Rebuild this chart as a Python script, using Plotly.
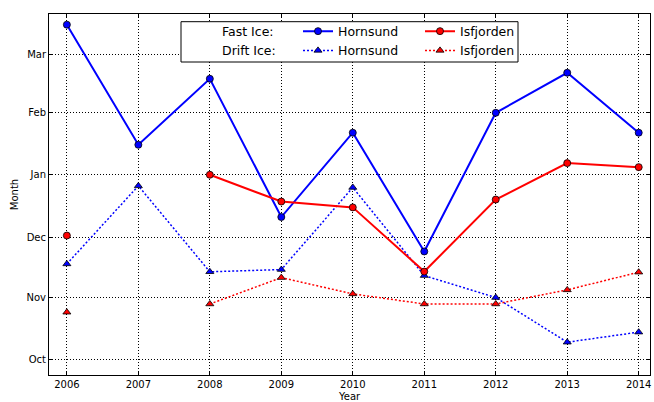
import plotly.graph_objects as go

# Years
years = [2006, 2007, 2008, 2009, 2010, 2011, 2012, 2013, 2014]

# Values are days since 1 October (Oct=0, Nov=31, Dec=61, Jan=92, Feb=123, Mar=152)
fast_hornsund = [166.6, 106.9, 139.7, 71.0, 112.9, 53.9, 122.8, 142.7, 112.9]
fast_isfjorden = [61.8, None, 92.0, 78.7, 75.8, 43.9, 79.7, 97.8, 95.8]
drift_hornsund = [47.7, 86.5, 43.8, 44.9, 85.7, 41.9, 31.0, 8.8, 13.8]
drift_isfjorden = [23.7, None, 27.8, 40.9, 32.8, 27.8, 27.8, 34.8, 43.6]

month_ticks = [0, 31, 61, 92, 123, 152]
month_labels = ["Oct", "Nov", "Dec", "Jan", "Feb", "Mar"]

BLUE = "rgb(0,0,255)"
RED = "rgb(255,0,0)"
FONT = "DejaVu Sans"

fig = go.Figure()

def add(y, name, color, solid, legend):
    fig.add_trace(go.Scatter(
        x=years, y=y, name=name, legend=legend,
        mode="lines+markers", connectgaps=False,
        line=dict(color=color, width=2 if solid else 1.5, dash="solid" if solid else "2px,2px"),
        marker=dict(symbol="circle" if solid else "triangle-up", size=7,
                    color=color, line=dict(color="black", width=0.8)),
    ))

# legend column 1: header labels with blank handles
fig.add_trace(go.Scatter(x=[None], y=[None], name="Fast Ice:", mode="lines",
                         line=dict(color="rgba(0,0,0,0)"), legend="legend"))
fig.add_trace(go.Scatter(x=[None], y=[None], name="Drift Ice:", mode="lines",
                         line=dict(color="rgba(0,0,0,0)"), legend="legend"))

add(fast_hornsund, "Hornsund", BLUE, True, "legend2")
add(drift_hornsund, "Hornsund", BLUE, False, "legend2")
add(fast_isfjorden, "Isfjorden", RED, True, "legend3")
add(drift_isfjorden, "Isfjorden", RED, False, "legend3")

L, R, T, B = 49, 4, 14, 27
W, H = 654, 402
pw, ph = W - L - R, H - T - B

def px(x):
    return (x - L) / pw

def py(y):
    return (H - B - y) / ph

legend_common = dict(
    bgcolor="rgba(0,0,0,0)", borderwidth=0, font=dict(family=FONT, size=12.5, color="black"),
    yanchor="top", xanchor="left", tracegroupgap=0, itemclick=False,
)

fig.update_layout(
    width=W, height=H,
    margin=dict(l=L, r=R, t=T, b=B),
    paper_bgcolor="white", plot_bgcolor="white",
    font=dict(family=FONT, size=10, color="black"),
    legend=dict(x=px(182), y=py(16.5), **legend_common),
    legend2=dict(x=px(298), y=py(16.5), **legend_common),
    legend3=dict(x=px(420), y=py(16.5), **legend_common),
    shapes=[dict(type="rect", xref="paper", yref="paper",
                 x0=px(181), x1=px(518), y0=py(62), y1=py(21.7),
                 line=dict(color="black", width=1), fillcolor="white", layer="above")],
    annotations=[dict(text="Year", xref="paper", yref="paper", x=0.5, y=0,
                      yshift=-21.5, yanchor="middle", xanchor="center", showarrow=False,
                      font=dict(family=FONT, size=10, color="black"))],
    xaxis=dict(
        range=[2005.75, 2014.158], tickmode="array", tickvals=years,
        ticktext=[str(y) for y in years],
        showline=True, linecolor="black", linewidth=1, mirror="ticks",
        ticks="inside", ticklen=4, tickcolor="black",
        showgrid=True, gridcolor="black", griddash="1px,2px", gridwidth=1,
        zeroline=False,
        automargin=False,
    ),
    yaxis=dict(
        range=[-7.5, 171.9], tickmode="array", tickvals=month_ticks, ticktext=month_labels,
        showline=True, linecolor="black", linewidth=1, mirror="ticks",
        ticks="inside", ticklen=4, tickcolor="black",
        showgrid=True, gridcolor="black", griddash="1px,2px", gridwidth=1,
        zeroline=False,
        title=dict(text="Month", font=dict(size=10), standoff=5),
        automargin=False,
    ),
)

fig.write_html("out.html", config={"displayModeBar": False},
               post_script="document.body.style.margin='0';document.body.style.overflow='hidden';")
